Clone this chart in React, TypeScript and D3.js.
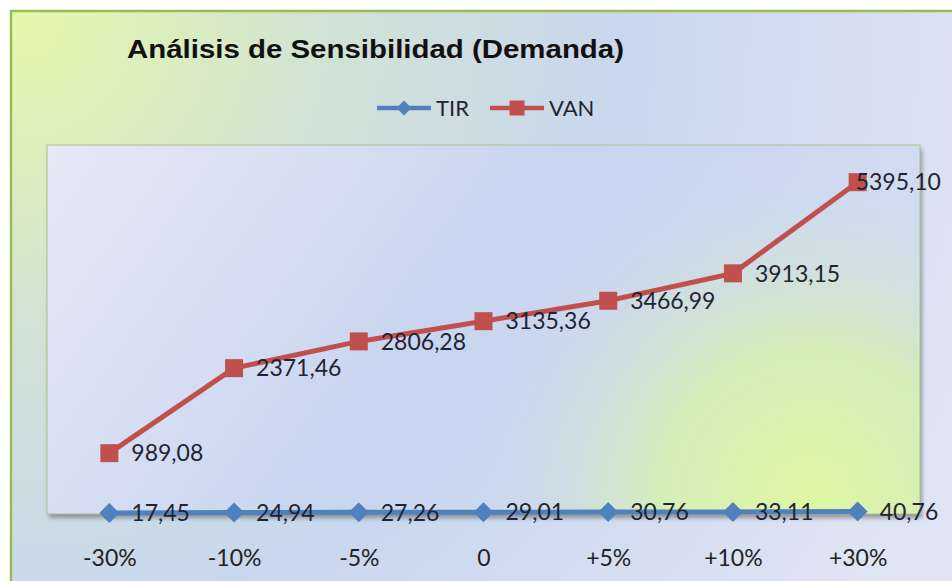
import React, { useEffect, useRef } from 'react'
import * as d3 from 'd3'

const categories = ['-30%', '-10%', '-5%', '0', '+5%', '+10%', '+30%']
const vanValues = [989.08, 2371.46, 2806.28, 3135.36, 3466.99, 3913.15, 5395.10]
const tirValues = [17.45, 24.94, 27.26, 29.01, 30.76, 33.11, 40.76]
const series = [
    { key: 'TIR', values: tirValues, color: '#4f81bd', marker: 'diamond' },
    { key: 'VAN', values: vanValues, color: '#c0504d', marker: 'square' }
]

const W = 952, H = 581

function App() {
    const ref = useRef<SVGSVGElement>(null)

    useEffect(() => {
        const svg = d3.select(ref.current)
        svg.selectAll('*').remove()

        const plot = { left: 47, top: 145, right: 920, bottom: 514 }
        const labelFont = 'Lato, "Open Sans", sans-serif'

        const defs = svg.append('defs')

        // chart background: yellow-green from the top-left corner fading into light blue
        const bg = defs.append('radialGradient').attr('id', 'bgGrad')
            .attr('gradientUnits', 'userSpaceOnUse')
            .attr('cx', 20).attr('cy', 20).attr('r', 1000)
        bg.append('stop').attr('offset', 0).attr('stop-color', '#e4f8aa')
        bg.append('stop').attr('offset', 0.32).attr('stop-color', '#d0e2d6')
        bg.append('stop').attr('offset', 0.6).attr('stop-color', '#c9d7ee')
        bg.append('stop').attr('offset', 1).attr('stop-color', '#dfe4f4')

        const pg = defs.append('linearGradient').attr('id', 'plotGrad')
            .attr('x1', 0).attr('y1', 0).attr('x2', 1).attr('y2', 0.3)
        pg.append('stop').attr('offset', 0).attr('stop-color', '#e6e9f6')
        pg.append('stop').attr('offset', 0.55).attr('stop-color', '#c8d5ef')
        pg.append('stop').attr('offset', 1).attr('stop-color', '#d3ddf2')

        const glow = defs.append('radialGradient').attr('id', 'plotGlow')
            .attr('gradientUnits', 'userSpaceOnUse')
            .attr('cx', 810).attr('cy', 500).attr('r', 340)
        glow.append('stop').attr('offset', 0).attr('stop-color', '#def7a2').attr('stop-opacity', 1)
        glow.append('stop').attr('offset', 0.45).attr('stop-color', '#d6f0b0').attr('stop-opacity', 0.85)
        glow.append('stop').attr('offset', 1).attr('stop-color', '#c8d5ef').attr('stop-opacity', 0)

        const shadow = defs.append('filter').attr('id', 'plotShadow')
            .attr('x', -0.05).attr('y', -0.05).attr('width', 1.1).attr('height', 1.1)
        shadow.append('feDropShadow').attr('dx', 2).attr('dy', 4)
            .attr('stdDeviation', 2).attr('flood-color', '#555').attr('flood-opacity', 0.55)

        const clip = defs.append('clipPath').attr('id', 'plotClip')
        clip.append('rect').attr('x', plot.left).attr('y', plot.top)
            .attr('width', plot.right - plot.left).attr('height', plot.bottom - plot.top)

        svg.append('rect').attr('width', W).attr('height', H).attr('fill', '#fff')
        svg.append('rect')
            .attr('x', 11).attr('y', 11).attr('width', W + 20).attr('height', H + 20)
            .attr('fill', 'url(#bgGrad)')
            .attr('stroke', '#9bbb59').attr('stroke-width', 2.5)

        // plot area
        svg.append('rect')
            .attr('x', plot.left).attr('y', plot.top)
            .attr('width', plot.right - plot.left).attr('height', plot.bottom - plot.top)
            .attr('fill', 'url(#plotGrad)')
            .attr('filter', 'url(#plotShadow)')
        svg.append('rect')
            .attr('x', plot.left).attr('y', plot.top)
            .attr('width', plot.right - plot.left).attr('height', plot.bottom - plot.top)
            .attr('fill', 'url(#plotGlow)')
            .attr('clip-path', 'url(#plotClip)')
        svg.append('rect')
            .attr('x', plot.left).attr('y', plot.top)
            .attr('width', plot.right - plot.left).attr('height', plot.bottom - plot.top)
            .attr('fill', 'none').attr('stroke', '#a9c18a').attr('stroke-width', 1)

        const x = d3.scalePoint<string>()
            .domain(categories)
            .range([plot.left, plot.right])
            .padding(0.5)

        const y = d3.scaleLinear()
            .domain([0, 6000])
            .range([plot.bottom, plot.top])

        // category labels
        const xAxis = svg.append('g')
            .attr('transform', `translate(0, ${plot.bottom})`)
            .call(d3.axisBottom(x).tickSize(0).tickPadding(0))
        xAxis.select('.domain').remove()
        xAxis.selectAll('text')
            .attr('y', 52)
            .attr('dy', 0)
            .attr('font-family', labelFont)
            .attr('font-size', 23)
            .attr('fill', '#222')

        const fmt = (v: number) => d3.format('.2f')(v).replace('.', ',')

        const line = d3.line<number>()
            .x((d, i) => x(categories[i]) as number)
            .y(d => y(d))

        const drawMarker = (g: any, type: string, cx: number, cy: number, color: string, size: number) => {
            if (type === 'square') {
                g.append('rect')
                    .attr('x', cx - size / 2).attr('y', cy - size / 2)
                    .attr('width', size).attr('height', size)
                    .attr('fill', color)
            } else {
                const r = size / 2 + 1
                g.append('path')
                    .attr('d', `M${cx},${cy - r}L${cx + r},${cy}L${cx},${cy + r}L${cx - r},${cy}Z`)
                    .attr('fill', color)
            }
        }

        for (const s of series) {
            const g = svg.append('g').attr('class', `series--${s.key}`)
            g.append('path')
                .datum(s.values)
                .attr('d', line)
                .attr('fill', 'none')
                .attr('stroke', s.color)
                .attr('stroke-width', 5)
            s.values.forEach((v, i) => {
                drawMarker(g, s.marker, x(categories[i]) as number, y(v), s.color, 18)
            })
            s.values.forEach((v, i) => {
                const cx = x(categories[i]) as number
                const last = s.key === 'VAN' && i === s.values.length - 1
                g.append('text')
                    .attr('x', last ? cx - 2 : cx + 22)
                    .attr('y', y(v))
                    .attr('dy', '0.36em')
                    .attr('font-family', labelFont)
                    .attr('font-size', 23)
                    .attr('fill', '#1f2430')
                    .text(fmt(v))
            })
        }

        // title
        svg.append('text')
            .attr('x', 127).attr('y', 58)
            .attr('font-family', '"Liberation Sans", Arial, sans-serif')
            .attr('font-weight', 'bold')
            .attr('font-size', 26)
            .attr('textLength', 497)
            .attr('lengthAdjust', 'spacingAndGlyphs')
            .attr('fill', '#111')
            .text('Análisis de Sensibilidad (Demanda)')

        // legend
        const legend = svg.append('g').attr('transform', 'translate(0, 108)')
        const legendItems = [
            { s: series[0], x0: 377 },
            { s: series[1], x0: 490 }
        ]
        for (const { s, x0 } of legendItems) {
            legend.append('line')
                .attr('x1', x0).attr('x2', x0 + 54)
                .attr('y1', 0).attr('y2', 0)
                .attr('stroke', s.color).attr('stroke-width', 4.5)
            drawMarker(legend, s.marker, x0 + 27, 0, s.color, s.marker === 'square' ? 15 : 13)
            legend.append('text')
                .attr('x', x0 + 59).attr('y', 0).attr('dy', '0.36em')
                .attr('font-family', labelFont)
                .attr('font-size', 22)
                .attr('fill', '#1f2430')
                .text(s.key)
        }
    }, [])

    return (
        <svg ref={ref} width={W} height={H}
            style={{ position: 'absolute', left: 0, top: 0, display: 'block' }} />
    )
}

export default App
